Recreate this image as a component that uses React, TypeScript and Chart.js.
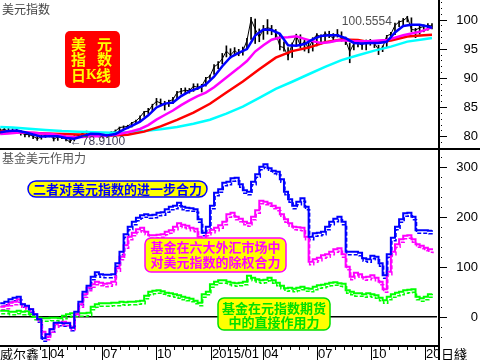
import React, { useEffect, useRef } from 'react';
import { Chart, registerables } from 'chart.js';
Chart.register(...registerables);

const CJK = '"Noto Sans CJK SC", "Noto Sans", sans-serif';
const LAT = '"Liberation Sans", Arial, sans-serif';

// ---- time axis (weeks since 2014-01-01) ----
const firstWeek = 1;
const quarterWeeks = [12.86, 25.86, 39.0, 52.14, 65.0, 78.0, 91.14, 104.3];
const quarterLabels = ['04', '07', '10', '2015/01', '04', '07', '10', '20'];

// ---- top panel: US dollar index (weekly) ----
const dxyClose = [
  81.0, 81.2, 80.9, 81.0, 80.9, 80.6, 80.3, 80.3, 80.0, 79.6,
  79.9, 80.2, 80.3, 79.5, 79.9, 79.8, 79.5, 79.0, 80.0, 80.1,
  80.5, 80.7, 80.5, 80.4, 80.1, 80.0, 80.1, 80.6, 80.9, 81.5,
  81.6, 81.7, 82.3, 82.6, 83.3, 84.2, 84.3, 85.3, 86.0, 85.7,
  85.3, 86.0, 86.3, 87.5, 87.7, 87.9, 87.8, 88.6, 88.4, 88.6,
  89.9, 90.3, 91.9, 92.4, 93.3, 94.6, 93.9, 94.7, 94.1, 94.6,
  96.4, 100.0, 98.4, 97.0, 98.3, 98.6, 98.4, 97.8, 95.4, 95.2,
  93.7, 95.8, 97.3, 95.5, 96.3, 95.0, 96.6, 97.4, 97.0, 97.6,
  97.3, 96.8, 97.6, 96.8, 96.4, 94.5, 95.9, 96.0, 95.6, 96.3,
  96.3, 95.9, 94.9, 95.2, 97.2, 97.5, 99.0, 99.6, 99.8, 100.4,
  98.3, 98.2, 98.6, 98.8, 99.0, 98.9,
];
const dxyHigh = [
  81.3, 81.5, 81.4, 81.3, 81.2, 81.0, 80.6, 80.5, 80.4, 80.1,
  80.2, 80.4, 80.5, 80.2, 80.1, 80.0, 79.9, 79.6, 80.1, 80.3,
  80.7, 80.9, 80.8, 80.7, 80.5, 80.3, 80.4, 80.8, 81.1, 81.6,
  81.8, 81.9, 82.4, 82.8, 83.5, 84.3, 84.8, 85.5, 86.5, 86.4,
  86.0, 86.2, 86.7, 87.7, 88.2, 88.3, 88.2, 89.0, 89.0, 88.9,
  90.1, 90.5, 92.3, 92.8, 94.2, 95.5, 95.0, 95.2, 94.9, 95.3,
  96.8, 100.4, 100.1, 98.4, 99.0, 100.0, 99.0, 98.3, 97.3, 96.2,
  95.2, 96.0, 97.5, 97.4, 96.5, 96.2, 96.9, 97.6, 97.4, 97.9,
  98.0, 97.6, 98.3, 97.9, 97.0, 96.0, 96.5, 96.4, 96.0, 96.5,
  96.6, 96.4, 95.6, 95.5, 97.3, 97.8, 99.4, 99.8, 100.2, 100.56,
  100.3, 98.5, 99.0, 99.1, 99.3, 99.3,
];
const dxyLowArr = [
  80.4, 80.8, 80.7, 80.5, 80.6, 80.2, 79.9, 79.9, 79.6, 79.3,
  79.5, 79.8, 79.9, 79.2, 79.3, 79.6, 79.2, 78.91, 79.2, 79.8,
  80.0, 80.3, 80.2, 80.1, 79.9, 79.7, 79.8, 80.0, 80.5, 80.8,
  81.2, 81.3, 81.6, 82.2, 82.6, 83.4, 83.9, 84.4, 85.3, 85.2,
  84.5, 85.1, 85.6, 86.3, 87.2, 87.3, 87.4, 87.7, 88.0, 87.6,
  88.6, 89.8, 90.6, 91.6, 92.4, 93.6, 93.4, 93.8, 93.8, 93.9,
  94.9, 96.6, 95.9, 96.2, 96.6, 97.5, 97.4, 96.6, 94.8, 94.6,
  93.1, 93.5, 95.7, 95.2, 94.6, 94.3, 94.6, 95.5, 95.8, 96.1,
  96.9, 96.5, 97.0, 96.3, 95.7, 92.6, 94.8, 95.3, 94.9, 94.8,
  95.6, 95.2, 94.0, 94.5, 95.2, 96.8, 97.4, 98.8, 99.0, 99.6,
  97.9, 96.9, 97.5, 97.9, 98.2, 98.4,
];
const maWeeksFine = [
  1, 3, 5, 7, 9, 11, 13, 15, 17, 19, 21, 23, 25, 27, 29, 31, 33, 35, 37, 39,
  41, 43, 45, 47, 49, 51, 53, 55, 57, 59, 61, 63, 65, 67, 69, 71, 73, 75, 77, 79,
  81, 83, 85, 87, 89, 91, 93, 95, 97, 99, 101, 103, 105, 106,
];
const ma20 = [
  80.7, 80.9, 81.0, 80.7, 80.3, 79.95, 80.0, 80.0, 79.7, 79.6,
  80.0, 80.45, 80.4, 80.15, 80.4, 81.15, 81.8, 82.5, 83.6, 84.95,
  85.6, 85.8, 86.9, 87.7, 88.2, 88.9, 90.2, 92.0, 93.55, 94.3,
  94.95, 97.25, 98.3, 98.2, 97.55, 95.6, 95.5, 95.8, 96.6, 97.2,
  97.3, 97.3, 96.8, 96.0, 95.9, 96.0, 96.0, 96.2, 97.8, 98.9,
  99.1, 99.1, 98.8, 98.6,
];
const ma60 = [
  80.4, 80.5, 80.6, 80.7, 80.6, 80.5, 80.43, 80.21, 79.99, 79.85,
  79.88, 80.02, 80.02, 80.08, 80.26, 80.58, 80.87, 81.26, 81.93, 82.86,
  83.65, 84.42, 85.35, 86.17, 86.88, 87.48, 88.41, 89.53, 90.63, 91.73,
  92.89, 94.52, 95.61, 96.55, 96.94, 96.95, 97.13, 96.7, 96.3, 96.0,
  96.1, 96.4, 96.4, 96.3, 96.3, 96.3, 96.4, 96.5, 96.9, 97.3,
  97.6, 97.9, 98.4, 98.7,
];
const maWeeksCoarse = [
  1, 4, 8, 12, 16, 20, 24, 28, 32, 36, 40, 44, 48, 52, 56, 60, 64, 68, 72, 76,
  80, 84, 88, 92, 96, 100, 104, 106,
];
const ma120 = [
  80.9, 80.8, 80.6, 80.5, 80.4, 80.3, 80.26, 80.13, 80.28, 80.8,
  81.71, 82.81, 84.05, 85.57, 87.51, 89.38, 91.47, 93.47, 94.6, 95.2,
  96.1, 96.6, 96.5, 96.0, 96.4, 97.1, 97.3, 97.4,
];
const ma250 = [
  81.6, 81.5, 81.3, 81.1, 80.9, 80.8, 80.7, 80.6, 80.7, 80.9,
  81.2, 81.6, 82.16, 82.85, 83.89, 85.09, 86.59, 88.14, 89.35, 90.63,
  91.88, 93.05, 93.89, 94.68, 95.36, 96.22, 96.63, 96.83,
];
const topTicks = [80, 85, 90, 95, 100];
const dxyPeak = 100.5554;
const dxyPeakWeek = 99.4;
const dxyLow = 78.91;
const dxyLowWeek = 18.4;

// ---- bottom panel: fund force on the dollar (weekly) ----
const forceTotal = [
  27, 30, 35, 38, 40, 25, 22, 15, 5, -5,
  -43, -35, -25, -12, -12, -13, -13, -22, 10, 30,
  50, 62, 80, 89, 85, 84, 84, 85, 107, 130,
  165, 180, 190, 198, 203, 205, 203, 204, 208, 209,
  215, 220, 222, 228, 220, 218, 217, 215, 195, 168,
  180, 222, 248, 255, 268, 270, 277, 278, 265, 253,
  250, 270, 285, 300, 305, 297, 292, 290, 275, 250,
  235, 222, 230, 237, 220, 160, 167, 168, 170, 180,
  190, 196, 200, 190, 130, 130, 130, 128, 117, 115,
  122, 120, 107, 83, 125, 158, 180, 195, 207, 208,
  200, 173, 173, 173, 172, 173,
];
const forceFx = [
  20, 22, 28, 30, 35, 25, 20, 15, 5, -5,
  -30, -40, -25, -15, -12, -10, -12, -20, 5, 25,
  45, 58, 65, 70, 68, 66, 67, 70, 97, 120,
  143, 160, 168, 175, 178, 170, 163, 163, 164, 165,
  170, 173, 180, 187, 184, 182, 178, 176, 160, 155,
  168, 174, 178, 183, 190, 205, 208, 200, 196, 190,
  187, 200, 213, 232, 230, 227, 222, 218, 205, 195,
  187, 180, 179, 178, 160, 110, 115, 118, 123, 125,
  130, 135, 137, 125, 100, 80, 88, 85, 79, 80,
  83, 78, 70, 55, 90, 130, 145, 155, 162, 163,
  155, 145, 142, 138, 135, 133,
];
const forceFutures = [
  12, 12, 10, 10, 12, 10, 11, 5, 0, -2,
  -3, -3, -2, -2, -3, 2, 5, 7, 6, 7,
  7, 8, 20, 25, 27, 27, 27, 28, 28, 30,
  29, 30, 30, 31, 32, 42, 50, 52, 53, 51,
  48, 47, 45, 43, 40, 38, 36, 32, 28, 45,
  50, 65, 70, 73, 73, 70, 68, 67, 68, 70,
  82, 78, 75, 73, 74, 78, 73, 68, 62, 57,
  58, 56, 58, 60, 57, 56, 60, 63, 64, 66,
  68, 69, 67, 66, 53, 50, 47, 47, 45, 47,
  45, 43, 38, 33, 40, 45, 48, 50, 53, 54,
  55, 40, 37, 40, 45, 46,
];
const botTicks = [0, 100, 200, 300];

const toPts = (arr: number[]) => arr.map((v, i) => ({ x: firstWeek + i, y: v }));
const toPtsAt = (weeks: number[], arr: number[]) => arr.map((v, i) => ({ x: weeks[i], y: v }));
const toRange = (lo: number[], hi: number[]) => lo.map((v, i) => ({ x: firstWeek + i, y: [v, hi[i]] }));

const X_MIN = 0.944;
const X_MAX = 107.22;

function rr(ctx: CanvasRenderingContext2D, x: number, y: number, w: number, h: number, r: number) {
  ctx.beginPath();
  ctx.moveTo(x + r, y);
  ctx.arcTo(x + w, y, x + w, y + h, r);
  ctx.arcTo(x + w, y + h, x, y + h, r);
  ctx.arcTo(x, y + h, x, y, r);
  ctx.arcTo(x, y, x + w, y, r);
  ctx.closePath();
}

function labelBox(ctx: CanvasRenderingContext2D, x: number, y: number, w: number, h: number, r: number, border: string, lines: string[], lineYs: number[]) {
  rr(ctx, x, y, w, h, r);
  ctx.fillStyle = '#FFFF00';
  ctx.fill();
  ctx.lineWidth = 1.5;
  ctx.strokeStyle = border;
  ctx.stroke();
  ctx.fillStyle = border;
  ctx.font = `bold 13px ${CJK}`;
  ctx.textAlign = 'center';
  ctx.textBaseline = 'middle';
  lines.forEach((t, i) => ctx.fillText(t, x + w / 2, lineYs[i]));
}

const topDecor = {
  id: 'topDecor',
  afterDraw(chart: any) {
    const { ctx, chartArea: a, scales } = chart;
    const ys = scales.y;
    const xs = scales.x;
    ctx.save();
    ctx.fillStyle = '#000';
    ctx.fillRect(a.right + 1, 0, 2, chart.height);
    for (let v = 78; v <= 103; v++) {
      ctx.fillRect(a.right + 4, Math.round(ys.getPixelForValue(v)), 1, 1);
    }
    topTicks.forEach((t) => ctx.fillRect(a.right + 3, Math.round(ys.getPixelForValue(t)), 7, 1));
    ctx.font = `13px ${LAT}`;
    ctx.textAlign = 'right';
    ctx.textBaseline = 'middle';
    topTicks.forEach((t) => ctx.fillText(String(t), 478, ys.getPixelForValue(t) + 0.5));

    // title
    ctx.fillStyle = '#444';
    ctx.font = `12px ${CJK}`;
    ctx.textAlign = 'left';
    ctx.textBaseline = 'middle';
    ctx.fillText('美元指数', 2, 9);

    // red label box
    rr(ctx, 65, 31, 55, 57, 5);
    ctx.fillStyle = '#FF0000';
    ctx.fill();
    ctx.fillStyle = '#FFFF00';
    ctx.font = `bold 15px ${CJK}`;
    ctx.textAlign = 'left';
    ctx.fillText('美', 71, 44);
    ctx.fillText('元', 97, 44);
    ctx.fillText('指', 71, 59.5);
    ctx.fillText('数', 97, 59.5);
    ctx.fillText('日', 71, 75);
    ctx.fillText('线', 96, 75);
    ctx.font = `bold 14px "Liberation Serif", "DejaVu Serif", serif`;
    ctx.fillText('K', 86, 75.5);

    // value annotations
    ctx.fillStyle = '#505050';
    ctx.font = `12px ${LAT}`;
    ctx.textAlign = 'right';
    ctx.fillText(dxyPeak.toFixed(4), xs.getPixelForValue(dxyPeakWeek) - 13, ys.getPixelForValue(dxyPeak) + 5);
    ctx.textAlign = 'left';
    ctx.fillStyle = '#404058';
    const lx = xs.getPixelForValue(dxyLowWeek);
    const ly = ys.getPixelForValue(dxyLow);
    ctx.fillText('←' + dxyLow.toFixed(4), lx - 2, ly - 0.5);
    ctx.restore();
  },
};

const botDecor = {
  id: 'botDecor',
  beforeDatasetsDraw(chart: any) {
    const { ctx, chartArea: a, scales } = chart;
    const ys = scales.y;
    ctx.save();
    ctx.fillStyle = '#000';
    ctx.fillRect(a.left, Math.round(ys.getPixelForValue(0)) - 1, a.right - a.left, 1.5);
    ctx.beginPath();
    ctx.rect(a.left, a.top, a.right - a.left, a.bottom - a.top);
    ctx.clip();
    chart.data.datasets.forEach((ds: any, i: number) => {
      const pts = chart.getDatasetMeta(i).data;
      ctx.strokeStyle = ds.borderColor;
      ctx.lineWidth = 1.5;
      ctx.setLineDash([4, 2]);
      ctx.beginPath();
      pts.forEach((p: any, j: number) => {
        if (j === 0) ctx.moveTo(p.x + 1, p.y + 3);
        else {
          ctx.lineTo(p.x + 1, pts[j - 1].y + 3);
          ctx.lineTo(p.x + 1, p.y + 3);
        }
      });
      ctx.stroke();
    });
    ctx.restore();
  },
  afterDraw(chart: any) {
    const { ctx, chartArea: a, scales } = chart;
    const ys = scales.y;
    const xs = scales.x;
    ctx.save();
    ctx.fillStyle = '#000';
    // frame
    ctx.fillRect(0, 0, chart.width, 2);
    ctx.fillRect(a.right + 1, 0, 2, chart.height);
    ctx.fillRect(0, a.bottom, a.right + 2, 2);
    // right axis
    for (let v = -40; v <= 320; v += 20) {
      ctx.fillRect(a.right + 4, Math.round(ys.getPixelForValue(v)), 1, 1);
    }
    botTicks.forEach((t) => ctx.fillRect(a.right + 3, Math.round(ys.getPixelForValue(t)), 7, 1));
    ctx.font = `13px ${LAT}`;
    ctx.textAlign = 'right';
    ctx.textBaseline = 'middle';
    botTicks.forEach((t) => ctx.fillText(String(t), 478, ys.getPixelForValue(t) + 0.5));

    // x axis band
    const by = a.bottom + 9;
    ctx.textAlign = 'left';
    const sub = [-13 / 6, 13 / 6, 26 / 6, 39 / 6, 52 / 6, 65 / 6];
    quarterWeeks.forEach((w, i) => {
      const px = Math.round(xs.getPixelForValue(w));
      ctx.fillRect(px, a.bottom, 1, chart.height - a.bottom);
      sub.forEach((d) => {
        const sx = Math.round(xs.getPixelForValue(w + d));
        if (sx > 0 && sx < a.right - 2 && (d > 0 || i === 0) && !(i < quarterWeeks.length - 1 && w + d >= quarterWeeks[i + 1] - 0.5)) {
          ctx.fillRect(sx, a.bottom + 2, 1, 3);
        }
      });
      ctx.font = `13px ${LAT}`;
      ctx.fillText(quarterLabels[i], px + 1, by);
    });
    ctx.font = `13px ${CJK}`;
    ctx.fillText('威尔鑫', 0, by);
    ctx.font = `13px ${LAT}`;
    ctx.fillText('1', 41, by);
    ctx.font = `13px ${CJK}`;
    ctx.fillText('日綫', a.right + 4, by);

    // title
    ctx.fillStyle = '#555';
    ctx.font = `12px ${CJK}`;
    ctx.fillText('基金美元作用力', 2, 10);

    // annotation boxes
    labelBox(ctx, 28, 33, 179, 16, 8, '#0000FF', ['二者对美元指数的进一步合力'], [41]);
    labelBox(ctx, 145, 90, 141, 34, 6, '#FF00FF', ['基金在六大外汇市场中', '对美元指数的除权合力'], [99.5, 114]);
    labelBox(ctx, 218, 150, 112, 32, 6, '#00E000', ['基金在元指数期货', '中的直接作用力'], [160, 174]);
    ctx.restore();
  },
};

export default function App() {
  const topRef = useRef<HTMLCanvasElement>(null);
  const botRef = useRef<HTMLCanvasElement>(null);

  useEffect(() => {
    const line = (data: any[], color: string, width: number, extra: any = {}) => ({
      type: 'line',
      data,
      borderColor: color,
      backgroundColor: color,
      borderWidth: width,
      pointRadius: 0,
      fill: false,
      tension: 0,
      ...extra,
    });
    const top = new Chart(topRef.current!, {
      type: 'line',
      data: {
        datasets: [
          line(toPtsAt(maWeeksFine, ma20), '#0000FF', 2.5),
          line(toPtsAt(maWeeksFine, ma60), '#FF00FF', 2.5),
          line(toPtsAt(maWeeksCoarse, ma120), '#FF0000', 2.5),
          line(toPtsAt(maWeeksCoarse, ma250), '#00FFFF', 2.5),
          line(toPts(dxyClose), '#000000', 1, { order: 5 }),
          {
            type: 'bar',
            data: toRange(dxyLowArr, dxyHigh),
            backgroundColor: '#000000',
            borderWidth: 0,
            barThickness: 1,
            grouped: false,
            order: 6,
          },
        ],
      },
      options: {
        responsive: false,
        animation: false,
        layout: { padding: { left: 0, right: 43, top: 0, bottom: 0 } },
        plugins: { legend: { display: false }, tooltip: { enabled: false } },
        scales: {
          x: { type: 'linear', min: X_MIN, max: X_MAX, display: false, offset: false },
          y: { type: 'linear', min: 78.0, max: 103.35, display: false },
        },
      },
      plugins: [topDecor],
    } as any);
    const bot = new Chart(botRef.current!, {
      type: 'line',
      data: {
        datasets: [
          line(toPts(forceTotal), '#0000FF', 2, { stepped: true }),
          line(toPts(forceFx), '#FF00FF', 2, { stepped: true }),
          line(toPts(forceFutures), '#00FF00', 2, { stepped: true }),
        ],
      },
      options: {
        responsive: false,
        animation: false,
        layout: { padding: { left: 0, right: 43, top: 1, bottom: 15 } },
        plugins: { legend: { display: false }, tooltip: { enabled: false } },
        scales: {
          x: { type: 'linear', min: X_MIN, max: X_MAX, display: false },
          y: { type: 'linear', min: -56.6, max: 335.4, display: false },
        },
      },
      plugins: [botDecor],
    } as any);
    return () => {
      top.destroy();
      bot.destroy();
    };
  }, []);

  return (
    <div style={{ position: 'fixed', left: 0, top: 0, width: 480, height: 360, background: '#fff', overflow: 'hidden' }}>
      <canvas ref={topRef} width={480} height={148} style={{ position: 'absolute', left: 0, top: 0, width: 480, height: 148 }} />
      <canvas ref={botRef} width={480} height={212} style={{ position: 'absolute', left: 0, top: 148, width: 480, height: 212 }} />
    </div>
  );
}
